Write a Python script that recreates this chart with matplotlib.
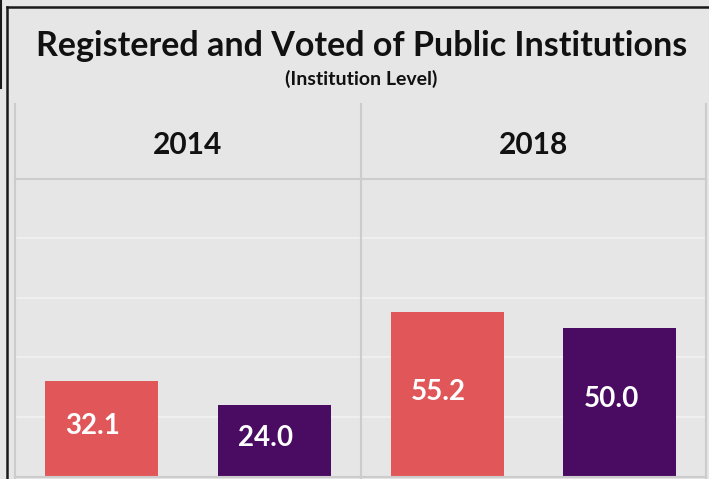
import matplotlib.pyplot as plt
from matplotlib.lines import Line2D

years = ['2014', '2018']
categories = ['Registered', 'Voted']
registered = [32.1, 55.2]
voted = [24.0, 50.0]

bg = '#e6e6e6'
colors = ['#e15759', '#4a0c62']
line_gray = '#cccccc'

plt.rcParams['font.family'] = ['Lato', 'DejaVu Sans']

W, H = 709, 479
fig = plt.figure(figsize=(W / 100, H / 100), dpi=100, facecolor=bg)

def fx(px):
    return px / W

def fy(py):
    return 1 - py / H

# panels
left, mid, right = 15, 361, 706
top_plot, bottom_plot = 179, 476
panels = [(left, mid), (mid, right)]

for i, year in enumerate(years):
    x0, x1 = panels[i]
    ax = fig.add_axes([fx(x0), fy(bottom_plot), fx(x1) - fx(x0), fy(top_plot) - fy(bottom_plot)])
    ax.set_facecolor(bg)
    vals = [registered[i], voted[i]]
    bars = ax.bar(range(len(categories)), vals, width=0.654, color=colors, zorder=3)
    for b, v in zip(bars, vals):
        ax.annotate('{:.1f}'.format(v), xy=(b.get_x(), v / 2 + 0.8),
                    xytext=(14.5, 0), textcoords='offset points',
                    ha='left', va='center', color='white',
                    fontsize=20, fontweight='bold', zorder=4)
    ax.set_xlim(-0.5, 1.5)
    ax.set_ylim(0, 100)
    ax.set_yticks([20, 40, 60, 80])
    ax.grid(axis='y', color='#f2f2f2', linewidth=1.2, zorder=1)
    ax.tick_params(left=False, bottom=False, labelleft=False, labelbottom=False)
    for s in ax.spines.values():
        s.set_visible(False)
    fig.text(fx((x0 + x1) / 2), fy(154), year, ha='center', va='baseline',
             fontsize=21.5, fontweight='bold', color='#111111')

# panel border lines
for x in [left, mid, right]:
    fig.add_artist(Line2D([fx(x), fx(x)], [fy(104), fy(478)], color=line_gray, linewidth=1.5))
fig.add_artist(Line2D([fx(left), fx(right)], [fy(top_plot), fy(top_plot)], color=line_gray, linewidth=1.5))
fig.add_artist(Line2D([fx(left), fx(right)], [fy(476.5), fy(476.5)], color=line_gray, linewidth=1.5))

# outer frame
fig.add_artist(Line2D([fx(6.5), fx(6.5)], [fy(6.5), 0], color='#1a1a1a', linewidth=1.8))
fig.add_artist(Line2D([fx(6.5), 1], [fy(6.5), fy(6.5)], color='#1a1a1a', linewidth=1.8))
fig.add_artist(Line2D([fx(0.8), fx(0.8)], [1, fy(88)], color='#1a1a1a', linewidth=1.5))

fig.text(fx(361.5), fy(56), 'Registered and Voted of Public Institutions', ha='center', va='baseline',
         fontsize=24.5, fontweight='bold', color='#111111')
fig.text(fx(361), fy(85), '(Institution Level)', ha='center', va='baseline',
         fontsize=14, fontweight='bold', color='#111111')

fig.savefig('out.png', dpi=100, facecolor=bg)
